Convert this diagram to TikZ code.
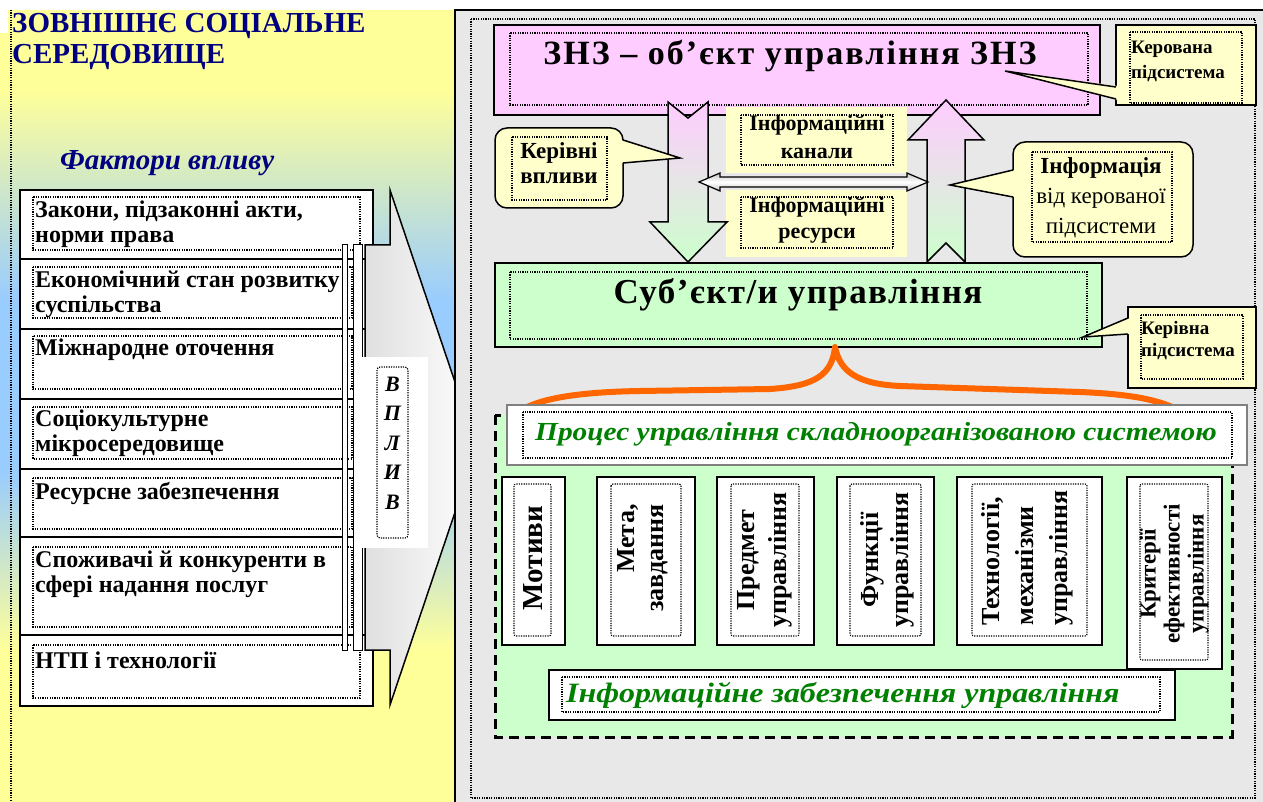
\documentclass[tikz,border=0pt]{standalone}
\usepackage{fontspec}
\setmainfont{Liberation Serif}
\usepackage{tikz}
\usetikzlibrary{calc}

\definecolor{pinkc}{HTML}{FFCCFF}
\definecolor{greenc}{HTML}{CCFFCC}
\definecolor{yellowc}{HTML}{FFFFCC}
\definecolor{panelgray}{HTML}{E8E8E8}
\definecolor{navyc}{HTML}{000080}
\definecolor{textgreen}{HTML}{008000}
\definecolor{bracec}{HTML}{FF6600}
\definecolor{bgyellow}{HTML}{FFFF99}
\definecolor{bgblue}{HTML}{99CCFF}

\newcommand{\sz}[2]{\fontsize{#1}{#2}\selectfont}

\tikzset{
  frame/.style={draw=black, line width=2pt},
  dotframe/.style={draw=black, line width=1.2pt, dash pattern=on 1.2pt off 1.2pt},
  blockarrow/.style={draw=black, line width=1.5pt, top color=pinkc, bottom color=greenc},
  callout/.style={draw=black, line width=1.5pt, fill=yellowc},
  factor/.style={anchor=west, inner sep=0pt, align=left, font=\bfseries\sz{24}{25}},
  vtext/.style={rotate=90, inner sep=0pt, align=center, font=\bfseries\sz{26}{32}},
  greentext/.style={text=textgreen, inner sep=0pt, font=\bfseries\itshape\sz{26}{28}},
}

\begin{document}
\begin{tikzpicture}[x=1pt, y=-1pt]
\useasboundingbox (0,0) rectangle (1263,802);
\fill[white] (0,0) rectangle (1263,802);

% external environment
\fill[bgyellow] (8,10) rectangle (455,34);
\fill[bgyellow] (0,33) rectangle (455,90);
\shade[top color=bgyellow, bottom color=bgblue] (0,89) rectangle (455,301);
\fill[bgblue] (0,300) rectangle (455,471);
\shade[top color=bgblue, bottom color=bgyellow] (0,470) rectangle (455,651);
\fill[bgyellow] (0,650) rectangle (455,802);
\draw[dotframe] (11,10) -- (11,802);
\node[anchor=north west, inner sep=0pt, align=left, text=navyc, font=\bfseries\sz{29}{31}] (title) at (12,13) {ЗОВНІШНЄ СОЦІАЛЬНЕ\\СЕРЕДОВИЩЕ};
\node[anchor=base west, inner sep=0pt, text=navyc, font=\bfseries\itshape\sz{29}{31}] (factors) at (60,170) {Фактори впливу};

% factor boxes
\filldraw[frame, fill=white] (20,190) rectangle (373,259);
\filldraw[frame, fill=white] (20,259) rectangle (373,329);
\filldraw[frame, fill=white] (20,329) rectangle (373,399);
\filldraw[frame, fill=white] (20,399) rectangle (373,469);
\filldraw[frame, fill=white] (20,469) rectangle (373,537);
\filldraw[frame, fill=white] (20,537) rectangle (373,635);
\filldraw[frame, fill=white] (20,635) rectangle (373,706);
\draw[dotframe] (33,197) rectangle (360,250);
\draw[dotframe] (33,267) rectangle (352,318);
\draw[dotframe] (33,336) rectangle (352,389);
\draw[dotframe] (33,407) rectangle (352,459);
\draw[dotframe] (33,478) rectangle (352,529);
\draw[dotframe] (33,547) rectangle (352,627);
\draw[dotframe] (33,645) rectangle (360,698);
\node[factor] (laws) at (35,224) {Закони, підзаконні акти,\\норми права};
\node[factor] (economy) at (35,294) {Економічний стан розвитку\\суспільства};
\node[factor] (intl) at (35,350) {Міжнародне оточення};
\node[factor] (culture) at (35,433) {Соціокультурне\\мікросередовище};
\node[factor] (resources) at (35,493) {Ресурсне забезпечення};
\node[factor] (consumers) at (35,574) {Споживачі й конкуренти в\\сфері надання послуг};
\node[factor] (ntp) at (35,660) {НТП і технології};

% influence arrow
\draw[line width=1.5pt, left color=gray!25, right color=white] (365,245) -- (390,245) -- (390,190) -- (477,447) -- (390,705) -- (390,650) -- (365,650) -- cycle;
\filldraw[draw=black, fill=white, line width=1pt] (342,245) rectangle (347,650);
\filldraw[draw=black, fill=white, line width=1pt] (353,245) rectangle (362,650);
\fill[white] (357,357) rectangle (428,548);
\draw[dotframe, rounded corners=3pt] (377,367) rectangle (408,538);
\node[inner sep=0pt, align=center, font=\bfseries\itshape\sz{22}{29.5}] (vplyv) at (392.5,443) {В\\П\\Л\\И\\В};

% management system panel
\filldraw[fill=panelgray, draw=black, line width=1.5pt] (455,10) rectangle (1275,815);
\draw[dotframe] (471,19) rectangle (1255,798);

\filldraw[frame, fill=pinkc] (494,25) rectangle (1100,115);
\draw[dotframe] (510,33) rectangle (1088,105);
\node[anchor=base, inner sep=0pt, font=\bfseries\sz{34}{36}\addfontfeatures{LetterSpace=6}] (znz) at (790,65) {ЗНЗ – об’єкт управління ЗНЗ};

\filldraw[frame, fill=greenc] (495,263) rectangle (1102,347);
\draw[dotframe] (510,272) rectangle (1087,339);
\node[anchor=base, inner sep=0pt, font=\bfseries\sz{35}{37}\addfontfeatures{LetterSpace=4}] (subj) at (798,303) {Суб’єкт/и управління};

\fill[yellowc] (726,107) rectangle (907,173);
\draw[dotframe] (741,115) rectangle (893,165);
\node[inner sep=0pt, align=center, font=\bfseries\sz{22}{28}] (channels) at (817,137) {Інформаційні\\канали};
\fill[yellowc] (726,190) rectangle (907,257);
\draw[dotframe] (741,197) rectangle (893,248);
\node[inner sep=0pt, align=center, font=\bfseries\sz{22}{26}] (infores) at (817,220) {Інформаційні\\ресурси};

% control and feedback arrows
\draw[blockarrow] (668,102) -- (688,118) -- (708,102) -- (708,222) -- (727,222) -- (688,262) -- (650,222) -- (668,222) -- cycle;
\draw[blockarrow] (927,262) -- (946,243) -- (965,262) -- (965,140) -- (984,140) -- (946,100) -- (908,140) -- (927,140) -- cycle;
\draw[line width=1.2pt, top color=gray!45, bottom color=gray!45, middle color=white] (699,182) -- (720,173) -- (720,177) -- (907,177) -- (907,173) -- (928,182) -- (907,191) -- (907,187) -- (720,187) -- (720,191) -- cycle;

% callouts
\coordinate (downtip) at (680,158);
\filldraw[callout, rounded corners=12pt] (495,128) rectangle (623,208);
\fill[yellowc] (621,140) -- (downtip) -- (621,163) -- cycle;
\draw[line width=1.5pt] (623,140) -- (downtip) -- (623,163);
\draw[dotframe] (512,137) rectangle (607,200);
\node[inner sep=0pt, align=center, font=\bfseries\sz{23}{25}] (commands) at (559,163) {Керівні\\впливи};

\coordinate (uptip) at (950,185);
\filldraw[callout, rounded corners=12pt] (1013,142) rectangle (1193,257);
\fill[yellowc] (1015,170) -- (uptip) -- (1015,197) -- cycle;
\draw[line width=1.5pt] (1013,170) -- (uptip) -- (1013,197);
\draw[dotframe] (1032,152) rectangle (1172,242);
\node[inner sep=0pt, align=center, font=\sz{23}{30}] (feedback) at (1101,198) {\textbf{Інформація}\\від керованої\\підсистеми};

\coordinate (znztip) at (1005,71);
\filldraw[callout] (1116,25) rectangle (1256,105);
\fill[yellowc] (1118,86) -- (znztip) -- (1118,100) -- cycle;
\draw[line width=1.5pt] (1116,87) -- (znztip) -- (1116,99);
\draw[dotframe] (1130,32) rectangle (1242,103);
\node[anchor=west, inner sep=0pt, align=left, font=\bfseries\sz{19}{25}] (managed) at (1131,61) {Керована\\підсистема};

\coordinate (subjtip) at (1083,337);
\filldraw[callout] (1128,307) rectangle (1256,388);
\fill[yellowc] (1130,318) -- (subjtip) -- (1130,334) -- cycle;
\draw[line width=1.5pt] (1128,318) -- (subjtip) -- (1128,334);
\draw[dotframe] (1141,315) rectangle (1243,379);
\node[anchor=west, inner sep=0pt, align=left, font=\bfseries\sz{19}{22}] (managing) at (1141,341) {Керівна\\підсистема};

% process
\draw[bracec, line width=6pt, line join=round] (525,408) .. controls (545,398) and (580,392) .. (640,391) -- (770,389) .. controls (815,386) and (832,375) .. (835,347) .. controls (840,372) and (858,384) .. (900,386) -- (1080,392) .. controls (1130,394) and (1160,400) .. (1178,410);
\filldraw[fill=greenc, draw=black, line width=3pt, dash pattern=on 10pt off 6pt] (495,415) rectangle (1232,737);
\filldraw[fill=white, draw=gray, line width=2pt] (507,405) rectangle (1247,465);
\draw[dotframe] (523,412) rectangle (1232,458);
\node[greentext] (process) at (876,434) {\scalebox{1.13}[1]{Процес управління складноорганізованою системою}};

\filldraw[frame, fill=white] (502,477) rectangle (565,645);
\filldraw[frame, fill=white] (597,477) rectangle (695,645);
\filldraw[frame, fill=white] (717,477) rectangle (814,645);
\filldraw[frame, fill=white] (837,477) rectangle (934,645);
\filldraw[frame, fill=white] (957,477) rectangle (1102,645);
\filldraw[frame, fill=white] (1127,477) rectangle (1222,669);
\draw[dotframe, rounded corners=2pt] (514,484) rectangle (551,636);
\draw[dotframe, rounded corners=2pt] (611,484) rectangle (681,636);
\draw[dotframe, rounded corners=2pt] (731,484) rectangle (799,636);
\draw[dotframe, rounded corners=2pt] (850,484) rectangle (921,636);
\draw[dotframe, rounded corners=2pt] (972,484) rectangle (1087,636);
\draw[dotframe, rounded corners=2pt] (1140,484) rectangle (1208,660);
\node[vtext, font=\bfseries\sz{29}{30}] (motives) at (533,558) {Мотиви};
\node[vtext, align=right, font=\bfseries\sz{26}{29}] (goals) at (643,558) {Мета,\\завдання};
\node[vtext] (subject) at (765,560) {Предмет\\управління};
\node[vtext, font=\bfseries\sz{26}{30}] (functions) at (887,560) {Функції\\управління};
\node[vtext, align=left, font=\bfseries\sz{26}{34}] (technologies) at (1027,558) {Технології,\\механізми\\управління};
\node[vtext, font=\bfseries\sz{23}{24}] (criteria) at (1174,574) {Критерії\\ефективності\\управління};

\filldraw[draw=black, fill=white, line width=1.5pt] (549,670) rectangle (1175,720);
\draw[dotframe] (562,677) rectangle (1160,712);
\node[greentext, anchor=west, font=\bfseries\itshape\sz{28}{30}] (infosupport) at (566,695) {\scalebox{1.14}[1]{Інформаційне забезпечення управління}};
\end{tikzpicture}
\end{document}
